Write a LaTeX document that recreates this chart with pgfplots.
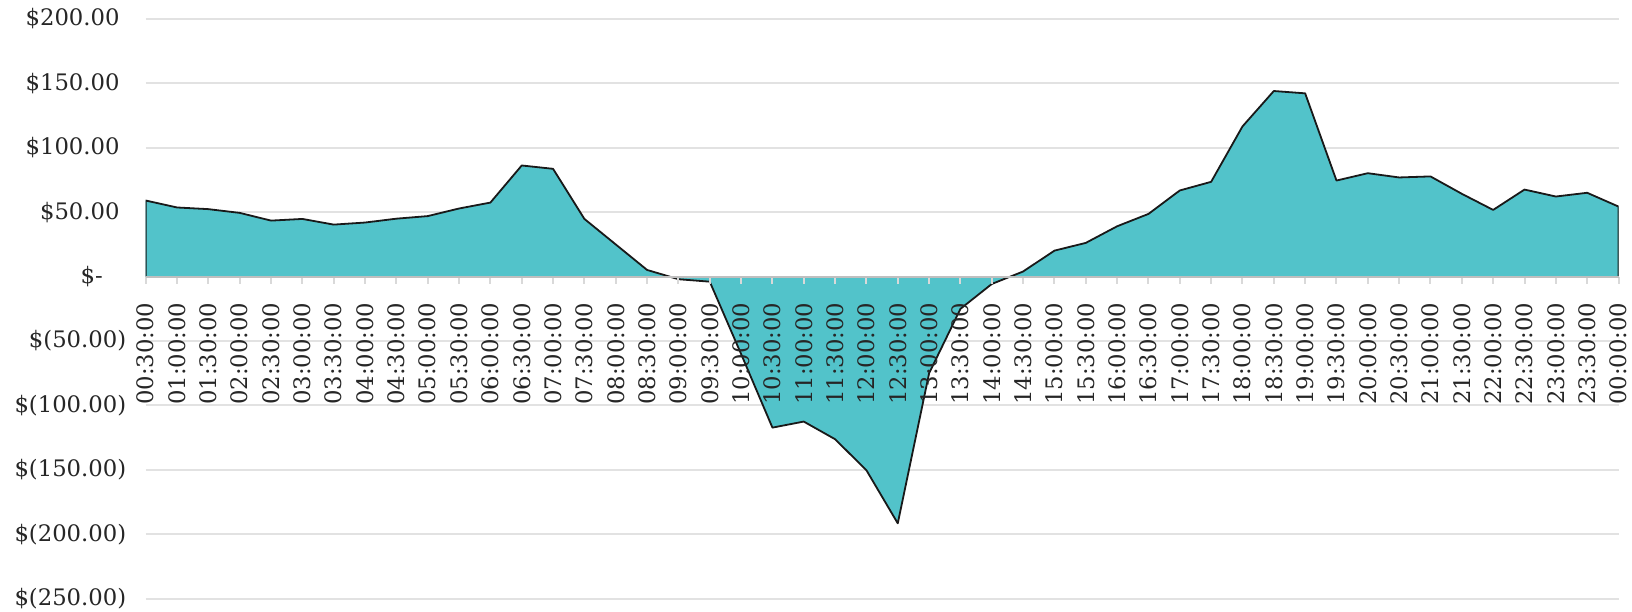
\documentclass[border=0pt]{standalone}
\usepackage{pgfplots}
\pgfplotsset{compat=1.18}
\usepackage{fontspec}
\setmainfont{DejaVu Serif}
\definecolor{areateal}{RGB}{82,195,202}
\definecolor{gridgray}{RGB}{226,226,226}
\definecolor{axisgray}{RGB}{191,191,191}
\definecolor{tickgray}{RGB}{217,217,217}
\definecolor{txt}{RGB}{38,38,38}
\pgfplotsset{
  common/.style={
    scale only axis,
    width=736.4bp, height=289.85bp,
    xmin=0, xmax=47, ymin=-250, ymax=200,
    enlargelimits=false,
    at={(0,0)}, anchor=south west,
  },
}
\newcommand{\padp}{\rule{3.3bp}{0pt}}
\newcommand{\padz}{\rule{11.7bp}{0pt}}
\begin{document}
\begin{tikzpicture}
% background axis: grid and data
\begin{axis}[
  common,
  axis line style={draw=none},
  xtick=\empty,
  ytick={-250,-200,-150,-100,-50,0,50,100,150,200},
  yticklabels={},
  ytick style={draw=none},
  ymajorgrids=true,
  grid style={draw=gridgray, line width=1bp},
]
\addplot[draw=none, fill=areateal] coordinates {
(0,59.1) (1,53.7) (2,52.4) (3,49.5) (4,43.5) (5,44.8) (6,40.4) (7,42.0) (8,45.0) (9,47.0)
(10,52.9) (11,57.5) (12,86.3) (13,83.7) (14,44.8) (15,25.0) (16,5.2) (17,-2.0) (18,-3.9) (19,-60.0)
(20,-117.2) (21,-112.5) (22,-126.2) (23,-150.3) (24,-191.5) (25,-75.0) (26,-25.0) (27,-5.7) (28,4.0) (29,20.2)
(30,26.2) (31,39.1) (32,48.7) (33,66.9) (34,73.6) (35,116.6) (36,144.1) (37,142.3) (38,74.6) (39,80.3)
(40,77.0) (41,77.8) (42,64.3) (43,51.8) (44,67.6) (45,62.2) (46,65.1) (47,54.4)
} \closedcycle;
\addplot[draw=black!90, line width=0.9bp, line join=round] coordinates {
(0,0)
(0,59.1) (1,53.7) (2,52.4) (3,49.5) (4,43.5) (5,44.8) (6,40.4) (7,42.0) (8,45.0) (9,47.0)
(10,52.9) (11,57.5) (12,86.3) (13,83.7) (14,44.8) (15,25.0) (16,5.2) (17,-2.0) (18,-3.9) (19,-60.0)
(20,-117.2) (21,-112.5) (22,-126.2) (23,-150.3) (24,-191.5) (25,-75.0) (26,-25.0) (27,-5.7) (28,4.0) (29,20.2)
(30,26.2) (31,39.1) (32,48.7) (33,66.9) (34,73.6) (35,116.6) (36,144.1) (37,142.3) (38,74.6) (39,80.3)
(40,77.0) (41,77.8) (42,64.3) (43,51.8) (44,67.6) (45,62.2) (46,65.1) (47,54.4)
(47,0)
};
\coordinate (SW) at (rel axis cs:0,0);
\end{axis}
% foreground axis: zero line, ticks, labels
\begin{axis}[
  common,
  axis x line=middle,
  axis y line=left,
  x axis line style={-, draw=axisgray, line width=1bp},
  y axis line style={draw=none},
  hide obscured x ticks=false,
  hide obscured y ticks=false,
  xtick={0,...,47},
  xticklabels={00:30:00,01:00:00,01:30:00,02:00:00,02:30:00,03:00:00,03:30:00,04:00:00,04:30:00,05:00:00,05:30:00,06:00:00,06:30:00,07:00:00,07:30:00,08:00:00,08:30:00,09:00:00,09:30:00,10:00:00,10:30:00,11:00:00,11:30:00,12:00:00,12:30:00,13:00:00,13:30:00,14:00:00,14:30:00,15:00:00,15:30:00,16:00:00,16:30:00,17:00:00,17:30:00,18:00:00,18:30:00,19:00:00,19:30:00,20:00:00,20:30:00,21:00:00,21:30:00,22:00:00,22:30:00,23:00:00,23:30:00,00:00:00},
  xtick align=outside,
  xtick style={draw=tickgray, line width=1bp},
  major tick length=3.5bp,
  xticklabel style={yshift=-8.8bp, rotate=90, anchor=east, inner sep=0.5bp, font=\fontsize{11.4}{13}\selectfont, text=txt},
  ytick={-250,-200,-150,-100,-50,0,50,100,150,200},
  yticklabels={\$(250.00),\$(200.00),\$(150.00),\$(100.00),\$(50.00),\$-\padz,\$50.00\padp,\$100.00\padp,\$150.00\padp,\$200.00\padp},
  ytick style={draw=none},
  yticklabel style={anchor=east, font=\fontsize{11.4}{13}\selectfont, text=txt, xshift=-4.5bp},
]
\addplot[draw=none] coordinates {(0,0) (47,0)};
\end{axis}
\pgfresetboundingbox
\path ([shift={(-72.85bp,-6.65bp)}]SW) rectangle ++(816bp,306bp);
\end{tikzpicture}
\end{document}
